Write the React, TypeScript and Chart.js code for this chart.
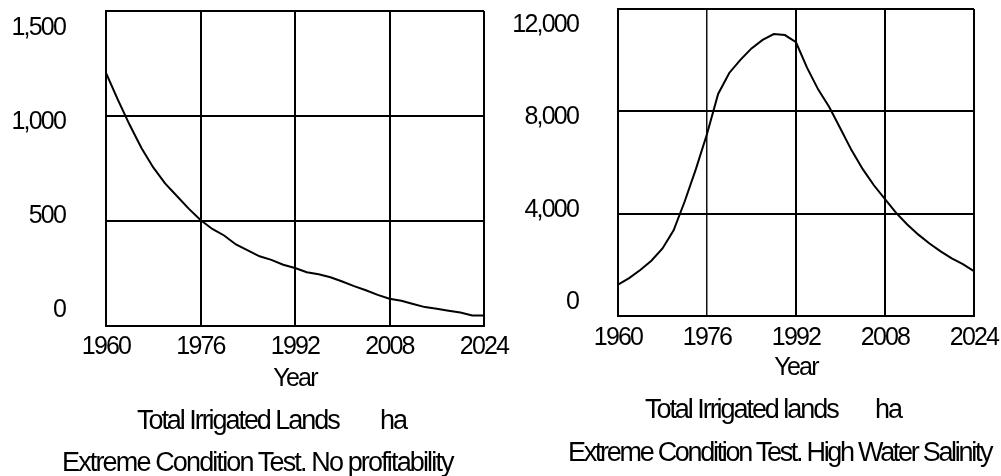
import React, { useEffect, useRef } from "react";
import { Chart, registerables } from "chart.js";

Chart.register(...registerables);

const FONT_FAMILY = "'Liberation Sans', Arial, sans-serif";
// Tight tracking used for all canvas text
const TICK_TRACKING = "-1.8px";

// Simulation years (two-year saving interval)
const years = [
  1960, 1962, 1964, 1966, 1968, 1970, 1972, 1974, 1976, 1978, 1980, 1982, 1984,
  1986, 1988, 1990, 1992, 1994, 1996, 1998, 2000, 2002, 2004, 2006, 2008, 2010,
  2012, 2014, 2016, 2018, 2020, 2022, 2024,
];

// Total irrigated lands (ha), no-profitability scenario
const irrigatedNoProfit = [
  1205, 1078, 958, 848, 755, 679, 619, 559, 505, 462, 431, 388, 360,
  332, 315, 292, 276, 256, 246, 232, 212, 190, 170, 148, 130, 120,
  105, 90, 82, 73, 64, 50, 50,
];

// Total irrigated lands (ha), high water salinity scenario
const irrigatedHighSalinity = [
  1230, 1480, 1800, 2160, 2640, 3350, 4485, 5740, 7115, 8680, 9500, 10010, 10460,
  10790, 11020, 10980, 10700, 9700, 8850, 8160, 7320, 6475, 5740, 5110, 4565, 4030,
  3580, 3180, 2835, 2525, 2250, 2025, 1750,
];

const yearTicks = [1960, 1976, 1992, 2008, 2024];
const noProfitTicks = [0, 500, 1000, 1500];
const highSalinityTicks = [0, 4000, 8000, 12000];

// Applies tight letter spacing to everything the chart writes on its canvas.
const tightTextPlugin = {
  id: "tightText",
  beforeUpdate(chart: any) {
    chart.ctx.letterSpacing = TICK_TRACKING;
  },
  beforeDraw(chart: any) {
    chart.ctx.letterSpacing = TICK_TRACKING;
  },
};

type PanelProps = {
  left: number;
  width: number;
  values: number[];
  yMax: number;
  yTicks: number[];
  labelMin: number;
  labelMax: number;
  area: { left: number; right: number; top: number; bottom: number };
  labelGap: number;
  xLabelPad: number;
  yearPad: number;
  thinYear?: number;
};

const HEIGHT = 476;

function Panel(p: PanelProps) {
  const ref = useRef<HTMLCanvasElement | null>(null);

  useEffect(() => {
    if (!ref.current) return;
    const font = { family: FONT_FAMILY, size: 25 };
    const isThin = (c: any) => p.thinYear !== undefined && c.tick && c.tick.value === p.thinYear;
    const chart = new Chart(ref.current, {
      type: "line",
      data: {
        datasets: [
          {
            label: "Total Irrigated Lands",
            data: years.map((x, i) => ({ x, y: p.values[i] })),
            borderColor: "#000",
            borderWidth: 2,
            pointRadius: 0,
            tension: 0,
            fill: false,
          },
        ],
      },
      options: {
        animation: false,
        responsive: false,
        events: [],
        layout: {
          padding: { top: p.area.top, right: p.width - p.area.right, left: 0, bottom: 0 },
        },
        plugins: { legend: { display: false }, tooltip: { enabled: false } },
        scales: {
          x: {
            type: "linear",
            position: "bottom",
            min: 1960,
            max: 2024,
            afterBuildTicks: (s: any) => {
              s.ticks = yearTicks.map((v) => ({ value: v }));
            },
            afterFit: (s: any) => {
              s.height = HEIGHT - p.area.bottom;
              s.paddingLeft = 0;
              s.paddingRight = 0;
            },
            grid: {
              color: (c: any) => (isThin(c) ? "#111" : "#000"),
              lineWidth: (c: any) => (isThin(c) ? 1.5 : 2),
              drawTicks: false,
            },
            border: { color: "#000", width: 2 },
            ticks: {
              color: "#000",
              font,
              padding: p.xLabelPad,
              maxRotation: 0,
              autoSkip: false,
              callback: (v: any) => String(v),
            },
            title: {
              display: true,
              text: "Year",
              color: "#000",
              font,
              padding: { top: 0, bottom: p.yearPad },
            },
          },
          y: {
            type: "linear",
            position: "left",
            weight: 0,
            min: 0,
            max: p.yMax,
            afterBuildTicks: (s: any) => {
              s.ticks = p.yTicks.map((v) => ({ value: v }));
            },
            afterFit: (s: any) => {
              s.width = 0;
              s.paddingTop = 0;
              s.paddingBottom = 0;
            },
            grid: { color: "#000", lineWidth: 2, drawTicks: false },
            border: { color: "#000", width: 2 },
            ticks: { display: false },
          },
          yLabels: {
            type: "linear",
            position: "left",
            weight: 1,
            min: p.labelMin,
            max: p.labelMax,
            afterBuildTicks: (s: any) => {
              s.ticks = p.yTicks.map((v) => ({ value: v }));
            },
            afterFit: (s: any) => {
              s.width = p.area.left;
              s.paddingTop = 0;
              s.paddingBottom = 0;
            },
            grid: { display: false, drawTicks: false },
            border: { display: false },
            ticks: {
              color: "#000",
              font,
              padding: p.labelGap,
              autoSkip: false,
              callback: (v: any) => Number(v).toLocaleString("en-US"),
            },
          },
        },
      } as any,
      plugins: [tightTextPlugin],
    });
    return () => chart.destroy();
  }, []);

  return (
    <canvas
      ref={ref}
      width={p.width}
      height={HEIGHT}
      style={{ position: "absolute", left: p.left, top: 0, width: p.width, height: HEIGHT }}
    />
  );
}

const captionStyle: React.CSSProperties = {
  position: "absolute",
  fontFamily: FONT_FAMILY,
  fontSize: 27,
  lineHeight: "27px",
  whiteSpace: "nowrap",
  color: "#000",
  letterSpacing: "-2.05px",
};

export default function App() {
  return (
    <div
      style={{
        position: "absolute",
        left: 0,
        top: 0,
        width: 1001,
        height: HEIGHT,
        background: "#fff",
        overflow: "hidden",
      }}
    >
      <Panel
        left={0}
        width={540}
        values={irrigatedNoProfit}
        yMax={1500}
        yTicks={noProfitTicks}
        labelMin={-85}
        labelMax={1592}
        area={{ left: 106, right: 484, top: 11, bottom: 326 }}
        labelGap={41}
        xLabelPad={6.5}
        yearPad={81.6}
      />
      <Panel
        left={500}
        width={501}
        values={irrigatedHighSalinity}
        yMax={12000}
        yTicks={highSalinityTicks}
        labelMin={-606}
        labelMax={12693}
        area={{ left: 118, right: 474, top: 9, bottom: 316 }}
        labelGap={40}
        xLabelPad={7}
        yearPad={92.5}
        thinYear={1976}
      />
      <div style={{ ...captionStyle, left: 137, top: 407 }}>Total Irrigated Lands</div>
      <div style={{ ...captionStyle, left: 380, top: 407 }}>ha</div>
      <div style={{ ...captionStyle, left: 62, top: 449, letterSpacing: "-1.85px" }}>
        Extreme Condition Test. No profitability
      </div>
      <div style={{ ...captionStyle, left: 645, top: 396 }}>Total Irrigated lands</div>
      <div style={{ ...captionStyle, left: 875, top: 396 }}>ha</div>
      <div style={{ ...captionStyle, left: 568, top: 439, letterSpacing: "-2.3px" }}>
        Extreme Condition Test. High Water Salinity
      </div>
    </div>
  );
}
